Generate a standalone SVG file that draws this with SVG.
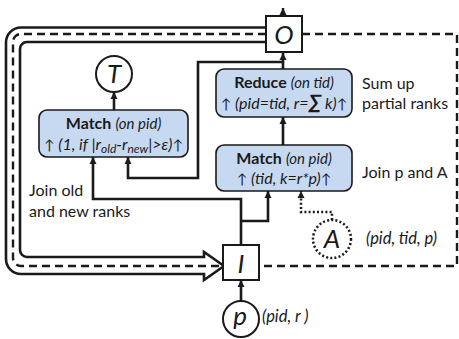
<svg xmlns="http://www.w3.org/2000/svg" width="459" height="339" viewBox="0 0 459 339">
<defs>
<marker id="ah" markerUnits="userSpaceOnUse" markerWidth="8" markerHeight="8" refX="7" refY="4" orient="auto"><path d="M0,0.5 L7,4 L0,7.5 Z" fill="#1a1a1a"/></marker>
<style>
text{font-family:Lato,"Open Sans","Liberation Sans",sans-serif;fill:#1a1a1a}
.box{fill:#c6d9f1;stroke:#1a1a1a;stroke-width:1.6}
.op{fill:#fff;stroke:#1a1a1a;stroke-width:2}
.circ{fill:#fff;stroke:#1a1a1a;stroke-width:2}
.dotc{fill:#fff;stroke:#1a1a1a;stroke-width:2.5;stroke-dasharray:2 2.2}
.c{fill:none;stroke:#1a1a1a;stroke-width:2.6}
.dash{fill:none;stroke:#1a1a1a;stroke-width:2.4;stroke-dasharray:8 5}
.dot{fill:none;stroke:#1a1a1a;stroke-width:2.5;stroke-dasharray:2 2.2}
.t1{font-size:16px;text-anchor:middle}
.b{font-weight:bold}
.i{font-style:italic;font-size:15px}
.t2{font-size:16px;font-style:italic;text-anchor:middle}
.up{font-style:normal;font-size:14px}
.sub{font-size:12px}
.lab{font-size:16px}
.il{font-size:16.5px;font-style:italic}
.big{font-size:26px;font-style:italic;text-anchor:middle}
</style>
</defs>
<g id="connectors">
<path class="c" d="M266,27.5 H21 A15,15 0 0 0 6,42.5 V259 A15,15 0 0 0 21,274 H204 V280 L224,266 L204,252 V257 H27 A7,7 0 0 1 20,250 V49 A7,7 0 0 1 27,42 H266"/>
<path class="dash" d="M266,34 H21 A8,8 0 0 0 13,42 V258 A8,8 0 0 0 21,266 H222"/>
<path class="dash" d="M302,34 H457 V266 H259"/>
<path class="dash" d="M283,16 V8" marker-end="url(#ah)"/>
<path class="c" d="M283,69 V53" marker-end="url(#ah)"/>
<path class="c" d="M283,145 V117" marker-end="url(#ah)"/>
<path class="c" d="M283,62 H198 V178 H128 V157" marker-end="url(#ah)"/>
<path class="c" d="M241,245 V199 H93 V157" marker-end="url(#ah)"/>
<path class="c" d="M241,221 H268 V191" marker-end="url(#ah)"/>
<path class="dot" d="M332,220 V212 H301 V191" marker-end="url(#ah)"/>
<path class="c" d="M241,301 V280" marker-end="url(#ah)"/>
<path class="c" d="M114,110 V92" marker-end="url(#ah)"/>
</g>
<g id="node-O">
<rect class="op" x="266" y="16" width="36" height="36"/>
<text class="big" x="284" y="44">O</text>
</g>
<g id="node-I">
<rect class="op" x="223" y="245" width="36" height="35"/>
<text class="big" x="241" y="273">I</text>
</g>
<g id="node-T">
<circle class="circ" cx="114" cy="74" r="18"/>
<text class="big" x="114" y="83">T</text>
</g>
<g id="node-match1">
<rect class="box" x="39" y="110" width="149" height="47" rx="8"/>
<text class="t1" x="113.5" y="129"><tspan class="b">Match</tspan> <tspan class="i">(on pid)</tspan></text>
<text class="t2" x="113.5" y="150"><tspan class="up">↑</tspan> (1, if |r<tspan class="sub" dy="3">old</tspan><tspan dy="-3">-r</tspan><tspan class="sub" dy="3">new</tspan><tspan dy="-3">|&gt;ε)</tspan><tspan class="up">↑</tspan></text>
</g>
<g id="node-reduce">
<rect class="box" x="216" y="69" width="136" height="48" rx="8"/>
<text class="t1" x="284" y="88"><tspan class="b">Reduce</tspan> <tspan class="i">(on tid)</tspan></text>
<text class="t2" x="284" y="109"><tspan class="up">↑</tspan> (pid=tid, r=<tspan font-size="20" font-weight="bold">∑</tspan> k)<tspan class="up">↑</tspan></text>
</g>
<g id="node-match2">
<rect class="box" x="216" y="145" width="136" height="46" rx="8"/>
<text class="t1" x="284" y="164"><tspan class="b">Match</tspan> <tspan class="i">(on pid)</tspan></text>
<text class="t2" x="284" y="184"><tspan class="up">↑</tspan> (tid, k=r*p)<tspan class="up">↑</tspan></text>
</g>
<g id="node-A">
<circle class="dotc" cx="332" cy="239" r="19"/>
<text class="big" x="332" y="248">A</text>
</g>
<g id="node-p">
<circle class="circ" cx="241" cy="319" r="18"/>
<text class="big" x="240" y="325">p</text>
</g>
<g id="labels">
<text class="lab" x="362" y="89">Sum up</text>
<text class="lab" x="362" y="109">partial ranks</text>
<text class="lab" x="362" y="178">Join p and A</text>
<text class="lab" x="29" y="196">Join old</text>
<text class="lab" x="29" y="217">and new ranks</text>
<text class="il" x="366" y="244">(pid, tid, p)</text>
<text class="il" x="262" y="322">(pid, r )</text>
</g>
</svg>
